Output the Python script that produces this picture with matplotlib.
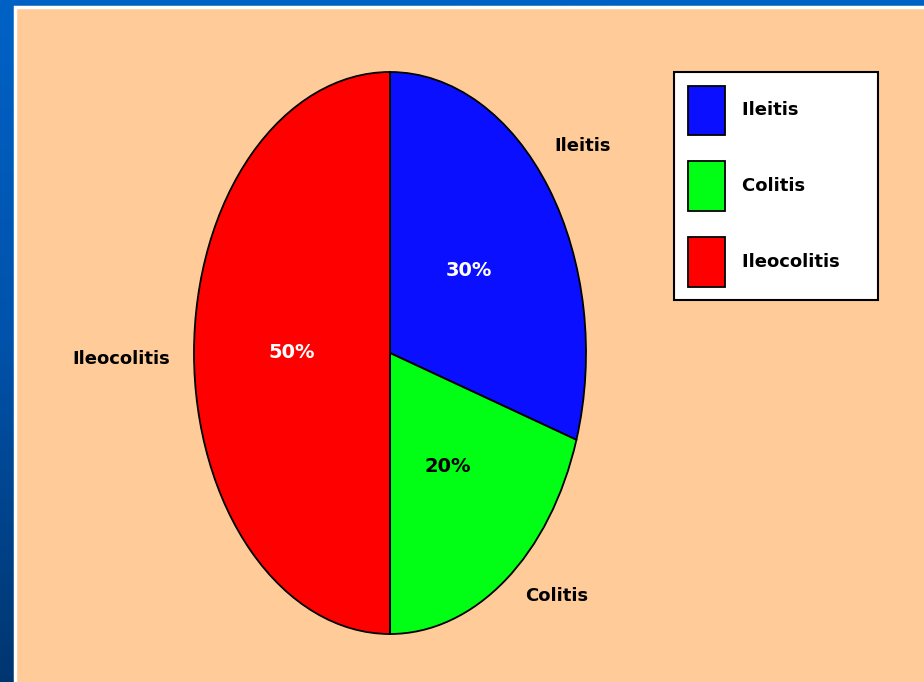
import numpy as np
import matplotlib.pyplot as plt
from matplotlib.patches import Rectangle, Patch
from matplotlib.colors import LinearSegmentedColormap

labels = ["Ileitis", "Colitis", "Ileocolitis"]
shares = [30, 20, 50]
colors = ["#0A10FF", "#00FF14", "#FF0000"]
pct_colors = ["white", "black", "white"]

W, H = 924, 682
fig = plt.figure(figsize=(W / 100, H / 100), dpi=100)

# slide background: blue gradient, peach panel on top
bg = fig.add_axes([0, 0, 1, 1])
grad = np.linspace(0, 1, 256).reshape(-1, 1)
cmap = LinearSegmentedColormap.from_list("slide", ["#0062C6", "#0052AA", "#003670"])
bg.imshow(grad, aspect="auto", cmap=cmap, extent=[0, 1, 0, 1], origin="upper")
bg.set_xlim(0, 1)
bg.set_ylim(0, 1)
bg.axis("off")
bg.add_patch(Rectangle((15 / W, -0.01), 1, 1.01 - 7 / H, transform=fig.transFigure,
                       facecolor="#FFCC99", edgecolor="white", linewidth=2.5))

# pie stretched into an ellipse
ax = fig.add_axes([194 / W, (H - 634) / H, 392 / W, 562 / H])
wedges, texts, autotexts = ax.pie(
    shares, labels=labels, colors=colors, startangle=90, counterclock=False,
    autopct="%d%%", pctdistance=0.5, labeldistance=1.12,
    wedgeprops=dict(edgecolor="black", linewidth=1.3),
    textprops=dict(fontsize=13, fontweight="bold", family="DejaVu Sans"))
for t, c in zip(autotexts, pct_colors):
    t.set_color(c)
    t.set_fontsize(14)
# nudge the outer labels a bit to where the original has them
nudges = [(-0.07, 0.08), (0.03, 0.04), (0.0, -0.02)]
for t, (dx, dy) in zip(texts, nudges):
    x, y = t.get_position()
    t.set_position((x + dx, y + dy))
ax.set_aspect("auto")
ax.set_xlim(-1, 1)
ax.set_ylim(-1, 1)
ax.axis("off")

handles = [Patch(facecolor=c, edgecolor="black", linewidth=1.3) for c in colors]
leg = fig.legend(handles, [l + "    " for l in labels], loc="upper left",
                 bbox_to_anchor=(674 / W, 1 - 72 / H), borderaxespad=0,
                 fancybox=False, framealpha=1, edgecolor="black",
                 handlelength=2.05, handleheight=3.85, labelspacing=1.45,
                 handletextpad=0.95, borderpad=0.75,
                 prop=dict(size=13, weight="bold", family="DejaVu Sans"))
leg.get_frame().set_linewidth(1.5)

fig.savefig("out.png", dpi=100)
